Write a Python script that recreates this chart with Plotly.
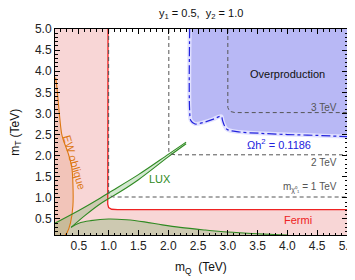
import plotly.graph_objects as go

FONT = "Liberation Sans, Arial, Helvetica, sans-serif"

# Axis ranges / ticks
x_range = [0.1, 5.0]
y_range = [0.12, 5.0]

# Fermi / left excluded region boundary (red)
fermi_x = [0.99, 0.99, 0.985, 1.0, 1.05, 1.15, 5.0]
fermi_y = [5.0, 1.2, 0.85, 0.77, 0.73, 0.72, 0.72]

# EW oblique boundary (orange)
ew_x = [0.11, 0.13, 0.21, 0.24, 0.32, 0.38, 0.40, 0.40, 0.36, 0.30, 0.27]
ew_y = [3.85, 3.64, 2.53, 2.37, 2.06, 1.74, 1.35, 0.80, 0.41, 0.17, 0.12]

# LUX boundaries (green)
lux_up_x = [0.1, 0.5, 0.82, 0.99, 1.5, 2.0, 2.3]
lux_up_y = [0.40, 0.70, 0.96, 1.11, 1.55, 2.03, 2.32]
lux_lo_x = [0.37, 0.6, 0.88, 1.2, 1.5, 2.0, 2.3]
lux_lo_y = [0.30, 0.58, 0.88, 1.15, 1.43, 1.97, 2.28]
hump_x = [0.37, 0.5, 0.7, 1.0, 1.3, 1.6, 1.9, 2.2, 2.6, 3.0, 3.5, 4.0]
hump_y = [0.30, 0.40, 0.46, 0.50, 0.48, 0.43, 0.36, 0.30, 0.24, 0.19, 0.15, 0.12]

# Overproduction boundary (Omega h^2 = 0.1186)
op_x = [2.36, 2.36, 2.38, 2.45, 2.6, 2.75, 2.89, 2.91, 2.94, 2.99, 3.2, 3.53, 4.0, 4.5, 5.0]
op_y = [5.0, 3.05, 2.83, 2.75, 2.79, 2.86, 2.93, 2.84, 2.72, 2.62, 2.56, 2.53, 2.50, 2.48, 2.45]

# m_chi contours (1, 2, 3 TeV)
c1_x = [1.0, 1.0, 1.02, 1.08, 5.0]
c1_y = [5.0, 1.12, 1.05, 1.02, 1.02]
c2_x = [2.01, 2.01, 2.04, 2.12, 5.0]
c2_y = [5.0, 2.10, 2.04, 2.02, 2.02]
c3_x = [3.0, 3.0, 3.03, 3.12, 5.0]
c3_y = [5.0, 3.14, 3.05, 3.02, 3.02]

fig = go.Figure()

# Pink excluded region (left + Fermi band)
pink_x = [x_range[0], 5.0] + fermi_x[::-1] + [x_range[0]]
pink_y = [y_range[0], y_range[0]] + fermi_y[::-1] + [5.0]
fig.add_trace(go.Scatter(x=pink_x, y=pink_y, fill="toself", mode="none",
                         fillcolor="rgba(246,200,200,0.75)", hoverinfo="skip"))

# EW oblique region
ewp_x = [x_range[0]] + ew_x + [x_range[0]]
ewp_y = [ew_y[0]] + ew_y + [y_range[0]]
fig.add_trace(go.Scatter(x=ewp_x, y=ewp_y, fill="toself", mode="none",
                         fillcolor="rgba(225,150,110,0.28)", hoverinfo="skip"))

# LUX region
lux_x = [x_range[0]] + lux_up_x + lux_lo_x[::-1] + hump_x + [x_range[0]]
lux_y = [y_range[0]] + lux_up_y + lux_lo_y[::-1] + hump_y + [y_range[0]]
fig.add_trace(go.Scatter(x=lux_x, y=lux_y, fill="toself", mode="none",
                         fillcolor="rgba(70,160,60,0.24)", hoverinfo="skip"))

# Overproduction region
opp_x = op_x + [5.0, op_x[0]]
opp_y = op_y + [5.0, 5.0]
fig.add_trace(go.Scatter(x=opp_x, y=opp_y, fill="toself", mode="none",
                         fillcolor="rgba(150,150,240,0.68)", hoverinfo="skip"))

# Boundary lines
fig.add_trace(go.Scatter(x=fermi_x, y=fermi_y, mode="lines",
                         line=dict(color="#ee2222", width=1.3), hoverinfo="skip"))
fig.add_trace(go.Scatter(x=ew_x, y=ew_y, mode="lines", line_shape="spline",
                         line=dict(color="#dd7711", width=1.1), hoverinfo="skip"))
for xs, ys in [(lux_up_x, lux_up_y), (lux_lo_x, lux_lo_y), (hump_x, hump_y)]:
    fig.add_trace(go.Scatter(x=xs, y=ys, mode="lines", line_shape="spline",
                             line=dict(color="#2f8a22", width=1.1), hoverinfo="skip"))
for xs, ys in [(c1_x, c1_y), (c2_x, c2_y), (c3_x, c3_y)]:
    fig.add_trace(go.Scatter(x=xs, y=ys, mode="lines",
                             line=dict(color="#555555", width=1, dash="4px,3px"),
                             hoverinfo="skip"))
fig.add_trace(go.Scatter(x=op_x, y=op_y, mode="lines", line_shape="spline",
                         line=dict(color="rgba(225,225,255,1)", width=4), hoverinfo="skip"))
fig.add_trace(go.Scatter(x=op_x, y=op_y, mode="lines", line_shape="spline",
                         line=dict(color="#2222dd", width=1.2, dash="dashdot"),
                         hoverinfo="skip"))

# Text labels
labels = [
    dict(x=4.0, y=3.94, text="Overproduction", color="#111111", size=11, xanchor="center", angle=0),
    dict(x=3.86, y=2.28, text="Ωh<sup>2</sup> = 0.1186", color="#2222dd", size=11, xanchor="center", angle=0),
    dict(x=4.86, y=3.14, text="3 TeV", color="#555555", size=10, xanchor="right", angle=0),
    dict(x=4.86, y=1.83, text="2 TeV", color="#555555", size=10, xanchor="right", angle=0),
    dict(x=4.86, y=1.25, text="m<sub>χ⁰₁</sub> = 1 TeV", color="#555555", size=10, xanchor="right", angle=0),
    dict(x=1.87, y=1.45, text="LUX", color="#2f8a22", size=11, xanchor="center", angle=0),
    dict(x=4.17, y=0.48, text="Fermi", color="#ee2222", size=11, xanchor="center", angle=0),
    dict(x=0.42, y=1.84, text="EW oblique", color="#dd7711", size=11, xanchor="center", angle=74),
]
for lb in labels:
    fig.add_annotation(x=lb["x"], y=lb["y"], text=lb["text"], showarrow=False,
                       xanchor=lb["xanchor"], yanchor="middle", textangle=lb["angle"],
                       font=dict(family=FONT, size=lb["size"], color=lb["color"]))

# Title and axis titles as paper-positioned annotations
fig.add_annotation(xref="paper", yref="paper", x=0.5, y=1.075,
                   text="y<sub>1</sub> = 0.5,  y<sub>2</sub> = 1.0",
                   showarrow=False, xanchor="center", yanchor="middle",
                   font=dict(family=FONT, size=11, color="#111111"))
fig.add_annotation(xref="paper", yref="paper", x=0.5, y=-0.16, text="m<sub>Q</sub>  (TeV)",
                   showarrow=False, xanchor="center", yanchor="middle",
                   font=dict(family=FONT, size=12, color="#111111"))
fig.add_annotation(xref="paper", yref="paper", x=-0.134, y=0.5, text="m<sub>T</sub> (TeV)",
                   showarrow=False, xanchor="center", yanchor="middle", textangle=-90,
                   font=dict(family=FONT, size=12, color="#111111"))

axis_common = dict(
    showgrid=False, zeroline=False, showline=True, linecolor="black", linewidth=1,
    mirror="allticks", ticks="inside", ticklen=5, tickcolor="black", tickwidth=1,
    tick0=0, dtick=0.5, tickformat=".1f", automargin=False,
    minor=dict(dtick=0.1, ticklen=2.5, ticks="inside", tickcolor="black", tickwidth=1),
    tickfont=dict(family=FONT, size=12, color="#222222"),
)

fig.update_layout(
    width=355, height=280,
    margin=dict(l=47, r=16, t=21, b=53, autoexpand=False),
    paper_bgcolor="white", plot_bgcolor="white",
    showlegend=False,
    xaxis=dict(range=x_range, **axis_common),
    yaxis=dict(range=y_range, **axis_common),
)

fig.write_html("out.html")
